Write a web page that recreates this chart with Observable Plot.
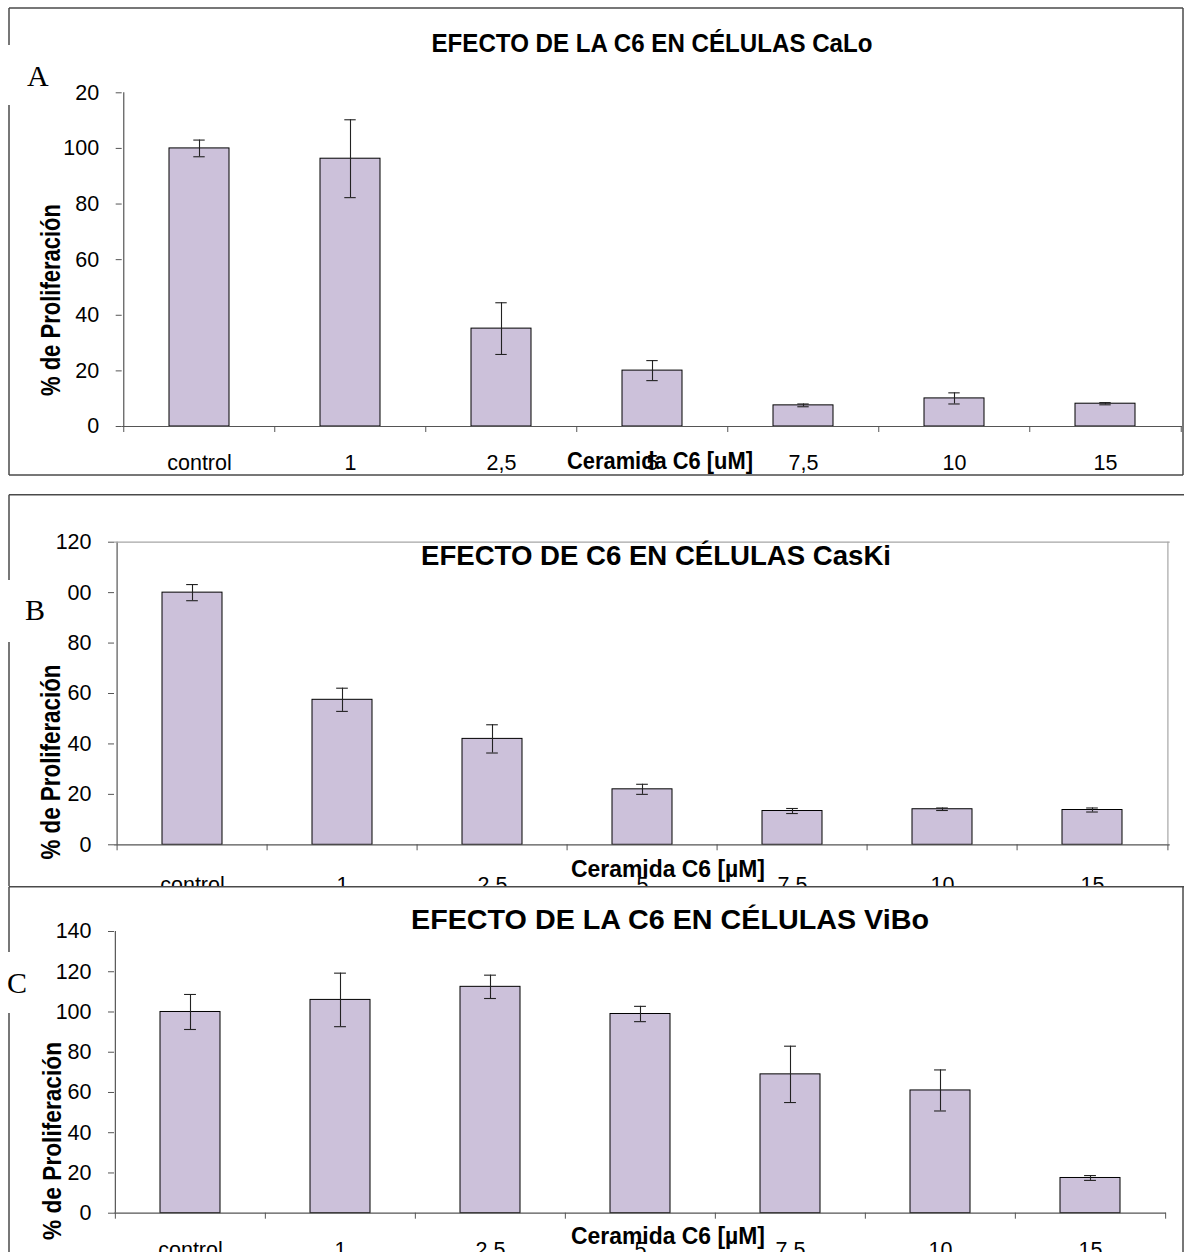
<!DOCTYPE html>
<html>
<head>
<meta charset="utf-8">
<script src="https://cdn.jsdelivr.net/npm/d3@7"></script>
<script src="https://cdn.jsdelivr.net/npm/@observablehq/plot@0.6"></script>
<style>
  html, body { margin: 0; padding: 0; background: #fff; }
  #root { position: relative; width: 1184px; height: 1252px; overflow: hidden; background: #fff; }
  .panel { position: absolute; left: 0; width: 1184px; overflow: hidden; background: #fff; }
  .panel svg { display: block; }
</style>
</head>
<body>
<div id="root"></div>
<script>
// ---- data ----
const categories = ["control", "1", "2,5", "5", "7,5", "10", "15"];

const caloMean = [100, 96.3, 35.2, 20.1, 7.6, 10.1, 8.2];
const caloErr  = [3.0, 14.0, 9.3, 3.6, 0.5, 2.0, 0.4];

const caskiMean = [100, 57.5, 42.0, 22.0, 13.4, 14.1, 13.8];
const caskiErr  = [3.2, 4.6, 5.6, 2.0, 1.0, 0.5, 0.8];

const viboMean = [100, 106, 112.5, 99, 69, 61, 17.5];
const viboErr  = [8.7, 13.3, 5.8, 3.8, 14.0, 10.2, 1.2];

const yTicksAB = [0, 20, 40, 60, 80, 100, 120];
const yTicksC  = [0, 20, 40, 60, 80, 100, 120, 140];

const titles = [
  "EFECTO DE LA C6 EN CÉLULAS CaLo",
  "EFECTO DE C6 EN CÉLULAS CasKi",
  "EFECTO DE LA C6 EN CÉLULAS ViBo"
];
const xTitles = ["Ceramida C6 [uM]", "Ceramida C6 [µM]", "Ceramida C6 [µM]"];
const yTitle = "% de Proliferación";
const letters = ["A", "B", "C"];

// ---- layout ----
const W = 1184;
const barFill = "#ccc1da";
const axisColor = "#555";
const errColor = "#222";
const frameColor = "#4a4a4a";

const panels = [
  { top: 0, h: 476, ml: 121.7, mr: 2, mt: 92.3, mb: 50, ymax: 120, ticks: yTicksAB,
    mean: caloMean, err: caloErr, border: false, labelOff: 43,
    title: { x: 652, y: 52, size: 26, len: 441 },
    letter: { x: 27, y: 86, box: [3, 45, 72, 60] },
    ytitle: { x: 60, y: 300, size: 27, len: 192 },
    xtitle: { x: 660, y: 469, size: 23, len: 186 },
    frame: "box" },
  { top: 494, h: 392, ml: 114, mr: 14.3, mt: 47.7, mb: 41.7, ymax: 120, ticks: yTicksAB,
    mean: caskiMean, err: caskiErr, border: true, labelOff: 47,
    title: { x: 656, y: 71, size: 28, len: 470 },
    letter: { x: 25, y: 126, box: [3, 86, 64, 62] },
    ytitle: { x: 60, y: 268, size: 27, len: 195 },
    xtitle: { x: 668, y: 383, size: 23, len: 194 },
    frame: "topleft" },
  { top: 886, h: 366, ml: 114, mr: 18, mt: 45, mb: 39.3, ymax: 140, ticks: yTicksC,
    mean: viboMean, err: viboErr, border: false, labelOff: 44,
    title: { x: 670, y: 43, size: 28, len: 518 },
    letter: { x: 7, y: 107, box: [3, 66, 47, 61] },
    ytitle: { x: 61, y: 255, size: 26, len: 198 },
    xtitle: { x: 668, y: 358, size: 23, len: 194 },
    frame: "open" }
];

const root = document.getElementById("root");
const tickFont = 21.5;

panels.forEach((p, k) => {
  const data = categories.map((c, i) => ({
    c, v: p.mean[i], lo: p.mean[i] - p.err[i], hi: p.mean[i] + p.err[i]
  }));
  const step = (W - p.ml - p.mr) / categories.length;
  const bw = step * 0.4;
  const capInset = (bw - 12) / 2;
  const labelPad = p.labelOff - 0.71 * tickFont;

  const marks = [
    Plot.barY(data, { x: "c", y: "v", fill: barFill, stroke: "#000", strokeWidth: 1 }),
    Plot.ruleX(data, { x: "c", y1: "lo", y2: "hi", stroke: errColor, strokeWidth: 1.1 }),
    Plot.tickY(data, { x: "c", y: "hi", stroke: errColor, strokeWidth: 1.1, insetLeft: capInset, insetRight: capInset }),
    Plot.tickY(data, { x: "c", y: "lo", stroke: errColor, strokeWidth: 1.1, insetLeft: capInset, insetRight: capInset }),
    Plot.ruleY([0], { stroke: axisColor, strokeWidth: 1.2 }),
    Plot.ruleX([categories[0]], { dx: -step / 2, stroke: axisColor, strokeWidth: 1.2 }),
    Plot.axisY({ ticks: p.ticks, tickSize: 6, tickPadding: 17, tickFormat: d => String(d), label: null, stroke: axisColor }),
    Plot.axisX({ ticks: categories, tickSize: 6, dx: -step / 2, tickFormat: () => "", label: null, stroke: axisColor }),
    Plot.axisX({ ticks: [categories[categories.length - 1]], tickSize: 6, dx: step / 2, tickFormat: () => "", label: null, stroke: axisColor }),
    Plot.axisX({ ticks: categories, tickSize: 0, tickPadding: labelPad, label: null })
  ];
  if (p.border) {
    marks.push(Plot.ruleY([p.ymax], { stroke: "#a6a6a6", strokeWidth: 1.2 }));
    marks.push(Plot.ruleX([categories[categories.length - 1]], { dx: step / 2, stroke: "#a6a6a6", strokeWidth: 1.2 }));
  }

  const chart = Plot.plot({
    width: W, height: p.h,
    marginLeft: p.ml, marginRight: p.mr, marginTop: p.mt, marginBottom: p.mb,
    style: { fontFamily: "'Liberation Sans', Arial, sans-serif", fontSize: tickFont + "px", color: "#000", background: "transparent" },
    x: { type: "band", domain: categories, paddingInner: 0.6, paddingOuter: 0.3, label: null },
    y: { domain: [0, p.ymax], label: null },
    marks
  });

  const div = document.createElement("div");
  div.className = "panel";
  div.style.top = p.top + "px";
  div.style.height = p.h + "px";
  div.appendChild(chart);
  root.appendChild(div);

  const svg = d3.select(chart);
  const g = svg.append("g");
  // frame
  const fl = [];
  if (p.frame === "box") {
    fl.push([9, 8, 1183, 8], [9, 8, 9, 475], [1183, 8, 1183, 475], [9, 475, 1183, 475]);
  } else if (p.frame === "topleft") {
    fl.push([9, 0.75, 1184, 0.75], [9, 0.75, 9, p.h]);
  } else {
    fl.push([9, 0.75, 1184, 0.75], [9, 0.75, 9, p.h], [1183, 0.75, 1183, p.h]);
  }
  fl.forEach(([x1, y1, x2, y2]) => {
    g.append("line").attr("x1", x1).attr("y1", y1).attr("x2", x2).attr("y2", y2)
      .attr("stroke", frameColor).attr("stroke-width", 1.5);
  });
  // letter box + letter
  const b = p.letter.box;
  g.append("rect").attr("x", b[0]).attr("y", b[1]).attr("width", b[2]).attr("height", b[3]).attr("fill", "#fff");
  g.append("text").attr("x", p.letter.x).attr("y", p.letter.y)
    .attr("text-anchor", "start")
    .attr("font-family", "'Liberation Serif', 'Times New Roman', serif").attr("font-size", 30)
    .attr("fill", "#000").text(letters[k]);
  // title
  g.append("text").attr("x", p.title.x).attr("y", p.title.y).attr("text-anchor", "middle")
    .attr("font-weight", "bold").attr("font-size", p.title.size)
    .attr("textLength", p.title.len).attr("lengthAdjust", "spacingAndGlyphs")
    .attr("fill", "#000").text(titles[k]);
  // x title
  g.append("text").attr("x", p.xtitle.x).attr("y", p.xtitle.y).attr("text-anchor", "middle")
    .attr("font-weight", "bold").attr("font-size", p.xtitle.size)
    .attr("textLength", p.xtitle.len).attr("lengthAdjust", "spacingAndGlyphs")
    .attr("fill", "#000").text(xTitles[k]);
  // y title
  g.append("text").attr("transform", `translate(${p.ytitle.x},${p.ytitle.y}) rotate(-90)`)
    .attr("text-anchor", "middle")
    .attr("font-weight", "bold").attr("font-size", p.ytitle.size)
    .attr("textLength", p.ytitle.len).attr("lengthAdjust", "spacingAndGlyphs")
    .attr("fill", "#000").text(yTitle);
});
</script>
</body>
</html>
